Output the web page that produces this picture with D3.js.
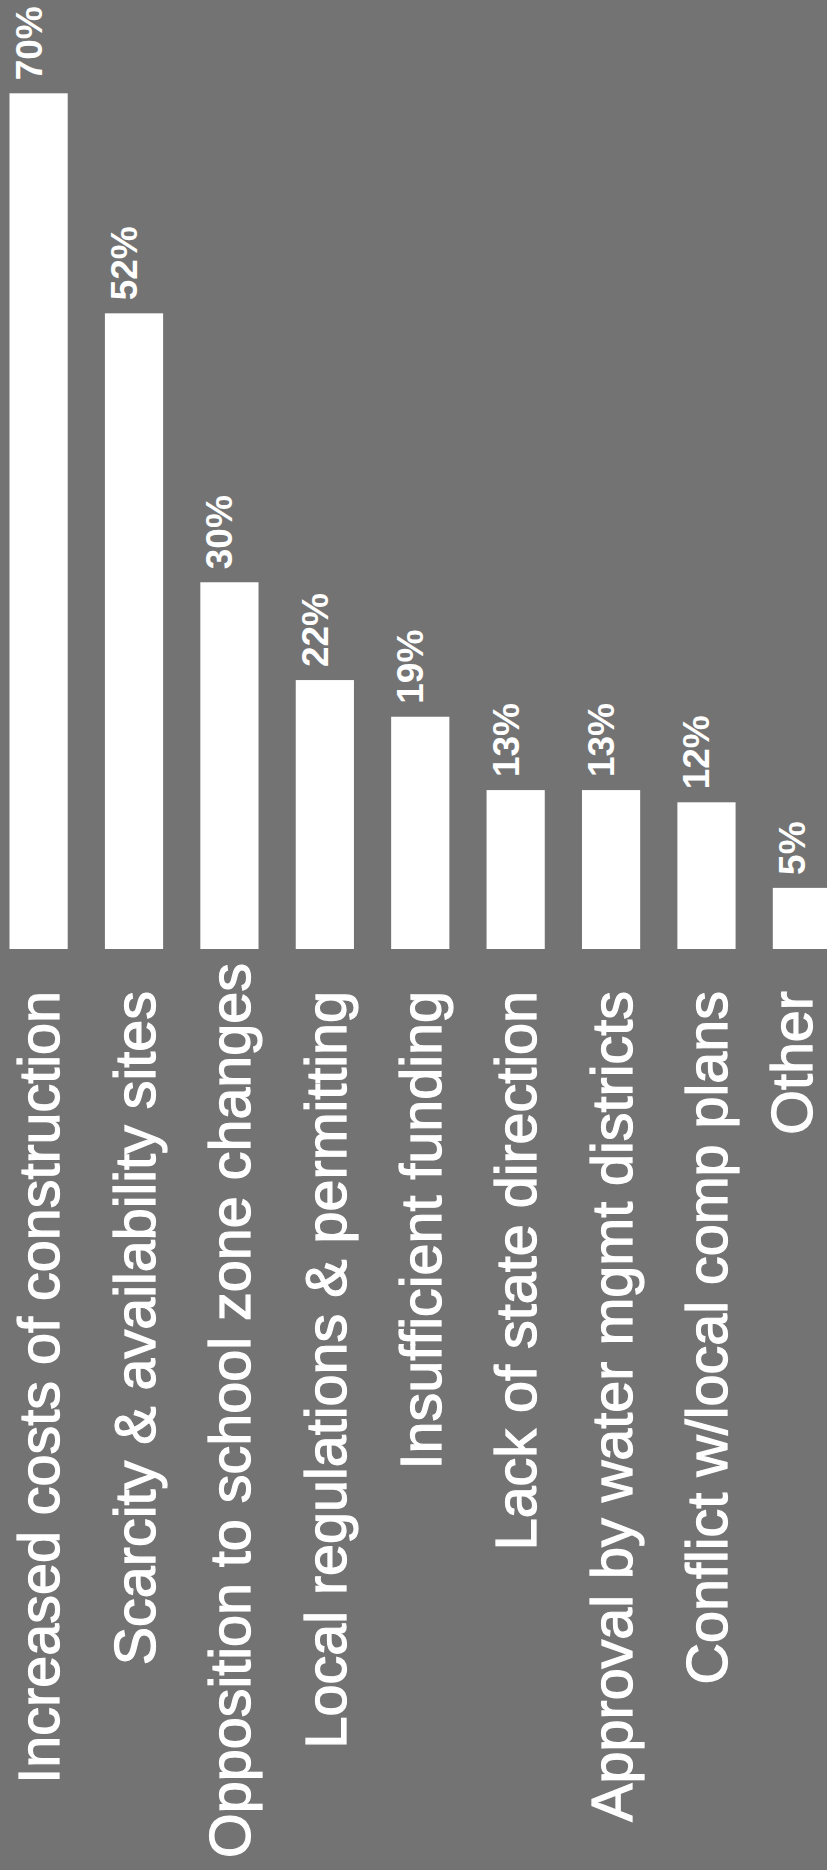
<!DOCTYPE html>
<html>
<head>
<meta charset="utf-8">
<script src="https://cdn.jsdelivr.net/npm/d3@7"></script>
<style>
  html, body { margin: 0; padding: 0; background: #737373; }
  svg { display: block; }
</style>
</head>
<body>
<script>
const categories = [
  "Increased costs of construction",
  "Scarcity & availability sites",
  "Opposition to school zone changes",
  "Local regulations & permitting",
  "Insufficient funding",
  "Lack of state direction",
  "Approval by water mgmt districts",
  "Conflict w/local comp plans",
  "Other"
];
const values = [70, 52, 30, 22, 19, 13, 13, 12, 5];
const valueLabels = ["70%", "52%", "30%", "22%", "19%", "13%", "13%", "12%", "5%"];

const W = 827, H = 1870;
const baseY = 949;

const svg = d3.select("body").append("svg")
  .attr("width", W).attr("height", H);

svg.append("rect").attr("width", W).attr("height", H).attr("fill", "#737373");

const x = d3.scaleBand()
  .domain(categories)
  .range([9.5, 831])
  .paddingInner(0.39)
  .paddingOuter(0);

const y = d3.scaleLinear().domain([0, 70]).range([baseY, 93.3]);

const data = categories.map((c, i) => ({ c, v: values[i], l: valueLabels[i] }));

svg.selectAll("rect.bar").data(data).enter().append("rect")
  .attr("class", "bar")
  .attr("x", d => x(d.c))
  .attr("y", d => y(d.v))
  .attr("width", x.bandwidth())
  .attr("height", d => y(0) - y(d.v))
  .attr("fill", "#ffffff");

const font = "'Liberation Sans', Arial, Helvetica, sans-serif";

svg.selectAll("text.val").data(data).enter().append("text")
  .attr("class", "val")
  .attr("transform", d => `translate(${x(d.c) + x.bandwidth() / 2 + 3},${y(d.v) - 13}) rotate(-90)`)
  .attr("text-anchor", "start")
  .attr("font-family", font)
  .attr("font-size", 37)
  .attr("font-weight", "bold")
  .attr("fill", "#ffffff")
  .text(d => d.l);

const labelEnd = baseY + 42;
const bottomLimit = H - 12;
const catSize = 57.5;

const cats = svg.selectAll("text.cat").data(data).enter().append("text")
  .attr("class", "cat")
  .attr("text-anchor", "start")
  .attr("font-family", font)
  .attr("font-size", catSize)
  .attr("fill", "#ffffff")
  .attr("stroke", "#ffffff")
  .attr("stroke-width", 1.2)
  .text(d => d.c);

cats.each(function(d) {
  const len = this.getComputedTextLength();
  // reading bottom-to-top: text starts at the bottom
  const startY = Math.min(labelEnd + len, bottomLimit);
  const baseX = Math.min(x(d.c) + x.bandwidth() / 2 + catSize * 0.36, W - 15);
  d3.select(this).attr("transform",
    `translate(${baseX},${startY}) rotate(-90)`);
});
</script>
</body>
</html>
